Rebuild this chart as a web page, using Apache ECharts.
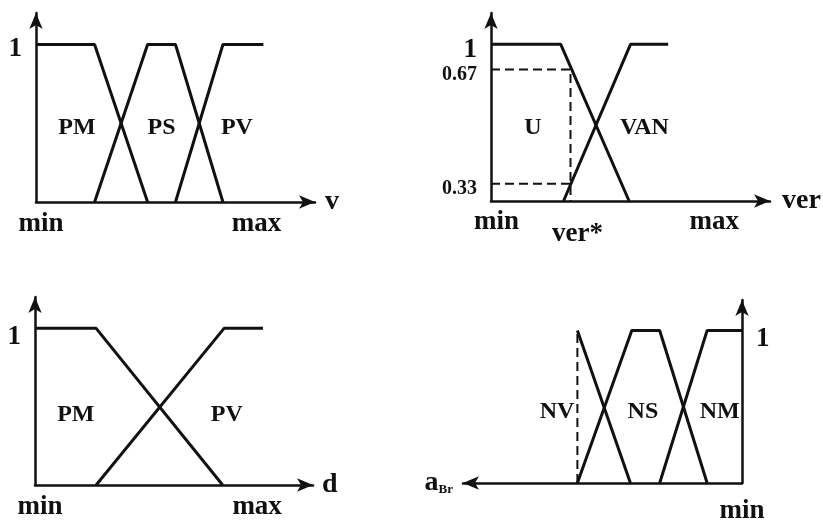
<!DOCTYPE html>
<html>
<head>
<meta charset="utf-8">
<script src="https://cdn.jsdelivr.net/npm/echarts@6/dist/echarts.min.js"></script>
<style>
  html, body { margin: 0; padding: 0; background: #fff; }
  #main { width: 823px; height: 525px; }
</style>
</head>
<body>
<div id="main"></div>
<script>
// panel 1 : v
var v_PM = [[0, 1], [2.1, 1], [4.0, 0]];
var v_PS = [[2.1, 0], [4.0, 1], [5.0, 1], [6.7, 0]];
var v_PV = [[5.0, 0], [6.7, 1], [8.15, 1]];
var v_ticks = [0.18, 7.9];
var v_tickText = ['min', 'max'];

// panel 2 : ver
var ver_U = [[0, 1], [2.5, 1], [4.95, 0]];
var ver_VAN = [[2.6, 0], [5.0, 1], [6.35, 1]];
var ver_dashHi = [[0, 0.84], [2.85, 0.84], [2.85, 0]];
var ver_dashLo = [[0, 0.11], [2.85, 0.11]];
var ver_ticks = [0.2, 3.1, 8.0];
var ver_tickText = ['min', 'ver*', 'max'];
var ver_yTicks = [1, 0.84, 0.11];
var ver_yTickText = ['1', '0.67', '0.33'];

// panel 3 : d
var d_PM = [[0, 1], [2.2, 1], [6.75, 0]];
var d_PV = [[2.2, 0], [6.8, 1], [8.2, 1]];
var d_ticks = [0.18, 7.99];
var d_tickText = ['min', 'max'];

// panel 4 : aBr (axis runs right to left)
var a_NV = [[5.9, 1], [4.0, 0]];
var a_NS = [[5.9, 0], [3.95, 1], [2.95, 1], [1.25, 0]];
var a_NM = [[2.95, 0], [1.25, 1], [0, 1]];
var a_dash = [[5.9, 0], [5.9, 1]];
var a_ticks = [0];
var a_tickText = ['min'];

var INK = '#111';
var FONT = 'Liberation Serif';

function xAxisOf(grid, vals, texts, name, nameGap, margin, inverse) {
	return {
		type: 'value', gridIndex: grid, min: 0, max: 10, inverse: !!inverse,
		splitLine: { show: false },
		axisTick: { show: false },
		axisLine: {
			show: true, onZero: false,
			// inverse axis: arrow has to sit on the other end
			symbol: inverse ? ['arrow', 'none'] : ['none', 'arrow'],
			symbolSize: [10, 16],
			lineStyle: { color: INK, width: 2.5 }
		},
		axisLabel: {
			show: true, customValues: vals, margin: margin,
			color: INK, fontFamily: FONT, fontSize: 27, fontWeight: 'bold',
			formatter: function (val) {
				var t = texts[vals.indexOf(val)];
				if (t === 'ver*') return '{low|ver*}';
				return t;
			},
			rich: { low: { fontFamily: FONT, fontSize: 27, fontWeight: 'bold', color: INK, padding: [12, 0, 0, 0] } }
		},
		name: name, nameLocation: 'end', nameGap: nameGap,
		nameTextStyle: {
			color: INK, fontFamily: FONT, fontSize: 28, fontWeight: 'bold', verticalAlign: 'middle',
			rich: {
				a: { fontFamily: FONT, fontSize: 28, fontWeight: 'bold', color: INK },
				sub: { fontFamily: FONT, fontSize: 13, color: INK, fontWeight: 'bold', padding: [14, 0, 0, 0] }
			}
		}
	};
}

function yAxisOf(grid, vals, texts, pos, pad) {
	return {
		type: 'value', gridIndex: grid, min: 0, max: 1.2, position: pos,
		splitLine: { show: false },
		axisTick: { show: false },
		axisLine: {
			show: true, onZero: false,
			symbol: ['none', 'arrow'], symbolSize: [10, 16],
			lineStyle: { color: INK, width: 2.5 }
		},
		axisLabel: {
			show: true, customValues: vals, margin: 14,
			color: INK, fontFamily: FONT,
			formatter: function (val) {
				var t = texts[vals.indexOf(val)];
				return t === '1' ? '{big|1}' : '{small|' + t + '}';
			},
			rich: {
				big: { fontFamily: FONT, fontSize: 27, fontWeight: 'bold', color: INK, padding: [pad, 0, 0, 0] },
				small: { fontFamily: FONT, fontSize: 20, color: INK, fontWeight: 'bold', padding: [10, 0, 0, 0] }
			}
		}
	};
}

function curve(name, grid, data, lx, ly) {
	return {
		name: name, type: 'line', xAxisIndex: grid, yAxisIndex: grid,
		data: data, showSymbol: false, silent: true,
		lineStyle: { color: INK, width: 3 },
		markPoint: {
			symbol: 'circle', symbolSize: 0, silent: true,
			label: { show: true, position: 'inside', formatter: name, color: INK, fontFamily: FONT, fontSize: 24, fontWeight: 'bold' },
			data: [{ coord: [lx, ly] }]
		}
	};
}

function dashed(grid, data) {
	return {
		type: 'line', xAxisIndex: grid, yAxisIndex: grid,
		data: data, showSymbol: false, silent: true,
		lineStyle: { color: INK, width: 2, type: [9, 5] }
	};
}

var myChart = echarts.init(document.getElementById('main'));

var option = {
	animation: false,
	backgroundColor: '#fff',
	grid: [
		{ left: 36, top: 13, width: 279, height: 189 },
		{ left: 491, top: 13, width: 279, height: 188 },
		{ left: 35, top: 297, width: 278, height: 188 },
		{ left: 463, top: 300, width: 279, height: 187 }
	],
	xAxis: [
		xAxisOf(0, v_ticks, v_tickText, 'v', 10, 9),
		xAxisOf(1, ver_ticks, ver_tickText, 'ver', 12, 8),
		xAxisOf(2, d_ticks, d_tickText, 'd', 9, 9),
		xAxisOf(3, a_ticks, a_tickText, '{a|a}{sub|Br}', 10, 15, true)
	],
	yAxis: [
		yAxisOf(0, [1], ['1'], 'left', 10),
		yAxisOf(1, ver_yTicks, ver_yTickText, 'left', 12),
		yAxisOf(2, [1], ['1'], 'left', 18),
		yAxisOf(3, [1], ['1'], 'right', 18)
	],
	series: [
		curve('PM', 0, v_PM, 1.47, 0.47),
		curve('PS', 0, v_PS, 4.5, 0.47),
		curve('PV', 0, v_PV, 7.2, 0.47),

		curve('U', 1, ver_U, 1.5, 0.47),
		curve('VAN', 1, ver_VAN, 5.5, 0.47),
		dashed(1, ver_dashHi),
		dashed(1, ver_dashLo),

		curve('PM', 2, d_PM, 1.47, 0.45),
		curve('PV', 2, d_PV, 6.9, 0.45),

		curve('NV', 3, a_NV, 6.63, 0.47),
		curve('NS', 3, a_NS, 3.55, 0.47),
		curve('NM', 3, a_NM, 0.8, 0.47),
		dashed(3, a_dash)
	]
};

myChart.setOption(option);
</script>
</body>
</html>
